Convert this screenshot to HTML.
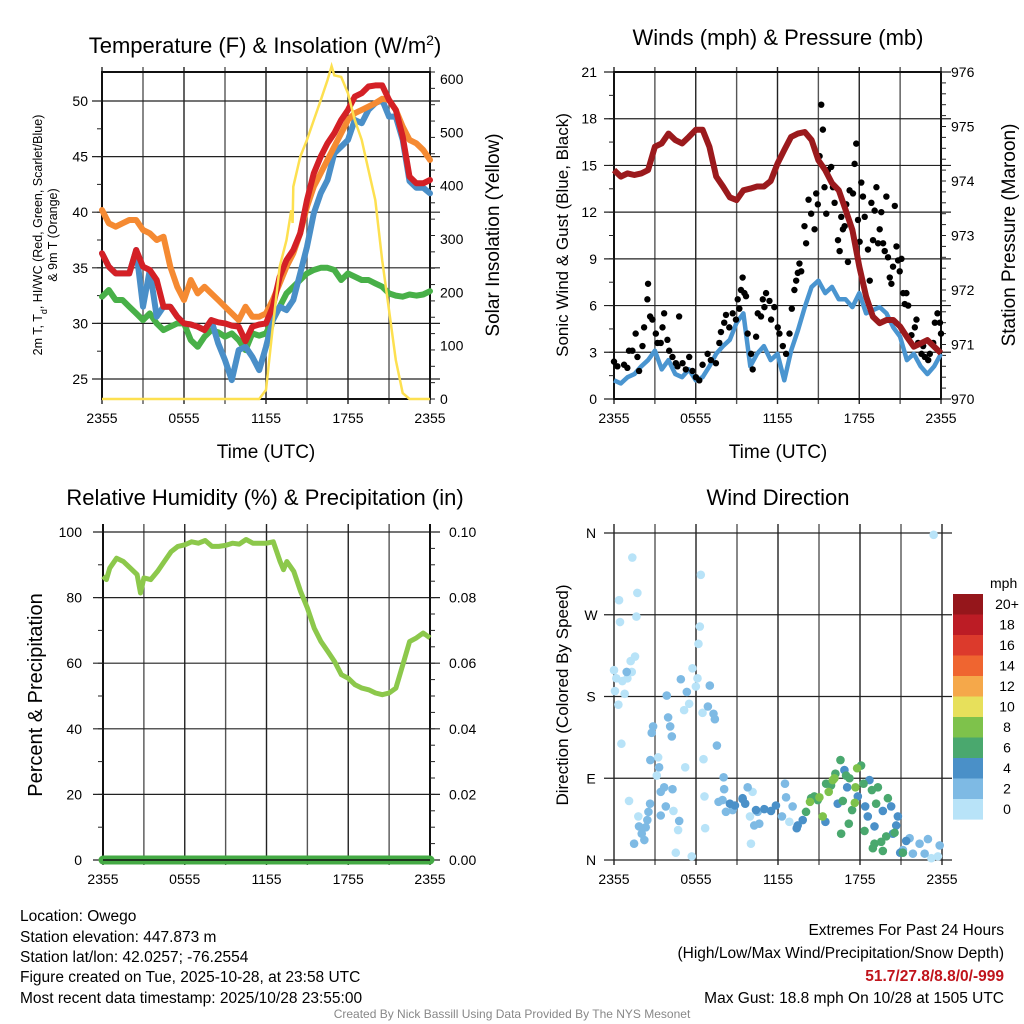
<!DOCTYPE html>
<html><head><meta charset="utf-8"><style>
body{margin:0;background:#fff}
svg{display:block;font-family:"Liberation Sans",sans-serif}
</style></head><body>
<svg id="s" width="1024" height="1024" xmlns="http://www.w3.org/2000/svg">
<rect width="1024" height="1024" fill="#fff"/>
<g id="g1"></g>
<g id="g2"></g>
<g id="g3"></g>
<g id="g4"></g>
<text x="265" y="53" font-size="22" text-anchor="middle">Temperature (F) &amp; Insolation (W/m<tspan baseline-shift="super" font-size="14">2</tspan>)</text>
<text x="778" y="45" font-size="22" text-anchor="middle">Winds (mph) &amp; Pressure (mb)</text>
<text x="265" y="505" font-size="22" text-anchor="middle">Relative Humidity (%) &amp; Precipitation (in)</text>
<text x="778" y="505" font-size="22" text-anchor="middle">Wind Direction</text>
<text x="266" y="458" font-size="19" text-anchor="middle">Time (UTC)</text>
<text x="778" y="458" font-size="19" text-anchor="middle">Time (UTC)</text>
<text transform="translate(42,235) rotate(-90)" font-size="12.5" text-anchor="middle">2m T, T<tspan baseline-shift="sub" font-size="9">d</tspan>, HI/WC (Red, Green, Scarlet/Blue)</text>
<text transform="translate(57,235) rotate(-90)" font-size="12.5" text-anchor="middle">&amp; 9m T (Orange)</text>
<text transform="translate(499,235) rotate(-90)" font-size="19" text-anchor="middle">Solar Insolation (Yellow)</text>
<text transform="translate(568,235) rotate(-90)" font-size="17" text-anchor="middle">Sonic Wind &amp; Gust (Blue, Black)</text>
<text transform="translate(1015,235) rotate(-90)" font-size="19" text-anchor="middle">Station Pressure (Maroon)</text>
<text transform="translate(42,695) rotate(-90)" font-size="20" text-anchor="middle">Percent &amp; Precipitation</text>
<text transform="translate(568,695) rotate(-90)" font-size="17" text-anchor="middle">Direction (Colored By Speed)</text>
<g font-size="15.5">
<text x="20" y="921">Location: Owego</text>
<text x="20" y="942">Station elevation: 447.873 m</text>
<text x="20" y="962">Station lat/lon: 42.0257; -76.2554</text>
<text x="20" y="982">Figure created on Tue, 2025-10-28, at 23:58 UTC</text>
<text x="20" y="1003">Most recent data timestamp: 2025/10/28 23:55:00</text>
</g>
<g font-size="15.5" text-anchor="end">
<text x="1004" y="935">Extremes For Past 24 Hours</text>
<text x="1004" y="958">(High/Low/Max Wind/Precipitation/Snow Depth)</text>
<text x="1004" y="981" fill="#c0141c" font-weight="bold">51.7/27.8/8.8/0/-999</text>
<text x="1004" y="1003">Max Gust: 18.8 mph On 10/28 at 1505 UTC</text>
</g>
<text x="512" y="1018" font-size="12" fill="#888" text-anchor="middle">Created By Nick Bassill Using Data Provided By The NYS Mesonet</text>
</svg>
<script>
// ---- data ----
const tHalf=[0,0.5,1,1.5,2,2.5,3,3.5,4,4.5,5,5.5,6,6.5,7,7.5,8,8.5,9,9.5,10,10.5,11,11.5,12,12.5,13,13.5,14,14.5,15,15.5,16,16.5,17,17.5,18,18.5,19,19.5,20,20.5,21,21.5,22,22.5,23,23.5,24];
const tempRed=[36.3,35.1,34.5,34.5,34.5,36.6,35.1,34.8,33.9,31.5,31.5,30.6,30.0,29.9,29.7,29.4,30.3,30.1,30.0,29.8,29.7,28.4,29.7,29.9,30.0,31.5,34.2,35.7,36.6,38.1,41.1,43.5,45.0,46.2,47.1,48.3,49.2,50.4,50.7,51.3,51.4,51.4,50.1,49.2,46.8,43.2,42.6,42.6,42.9];
const temp9m=[40.2,39.0,38.7,39.0,39.3,39.3,38.4,38.1,37.5,37.8,35.1,33.3,32.1,33.9,32.7,33.3,32.7,32.1,31.5,30.9,30.3,31.5,30.6,30.6,30.9,32.1,33.6,35.1,36.3,38.1,40.5,42.3,43.5,44.7,45.9,47.1,48.3,48.9,49.2,49.5,49.8,50.2,50.1,49.2,47.7,46.5,46.2,45.6,44.7];
const dewpt=[32.4,33.0,32.1,32.1,31.5,30.9,30.3,30.9,30.0,29.4,29.7,30.0,30.0,28.5,27.9,28.8,29.4,29.2,28.8,29.1,28.5,27.6,29.1,28.9,29.1,30.3,31.5,32.7,33.3,33.9,34.5,34.8,35.0,35.0,34.8,33.9,34.5,34.2,33.9,33.9,33.6,33.3,32.7,32.5,32.4,32.6,32.5,32.6,32.9];
const windChill=[36.3,35.1,34.5,34.5,34.5,36.6,31.5,34.8,30.6,31.5,31.5,30.6,30.0,29.9,29.7,29.4,30.3,28.2,26.7,24.9,27.6,27.9,27.0,25.8,27.9,30.3,31.5,31.2,32.1,34.5,36.9,39.9,41.7,42.9,45.3,45.9,46.5,48.3,48.0,49.2,49.8,50.1,48.6,48.6,46.5,42.8,42.2,42.2,41.7];
const solarT=[0,11.5,12,12.5,13,13.5,13.85,13.95,14,14.5,15,15.5,16,16.5,16.8,17,17.5,18,18.5,19,19.5,20,20.5,21,21.5,22,22.5,24];
const solar=[0,0,17,135,248,298,354,330,398,454,486,523,560,598,624,607,604,573,523,486,429,373,260,167,73,11,0,0];
const windT=tHalf;
const sonicWind=[1.2,1.0,1.4,1.6,2.1,2.5,3.1,1.9,2.5,1.6,1.4,1.9,1.2,1.4,2.1,2.9,3.4,3.8,4.9,5.5,2.1,2.9,3.4,2.5,2.9,1.2,3.1,4.4,5.9,7.2,7.6,6.8,7.2,6.4,6.4,5.9,6.8,5.5,5.7,5.9,5.5,4.6,4.0,2.5,2.9,2.1,1.6,2.1,2.9];
const pressure=[974.2,974.08,974.14,974.11,974.14,974.2,974.63,974.69,974.87,974.75,974.69,974.81,974.94,974.94,974.63,974.08,973.9,973.7,973.65,973.83,973.86,973.9,973.9,974.0,974.32,974.57,974.81,974.87,974.9,974.75,974.38,974.2,973.96,973.83,973.47,973.1,972.43,971.88,971.51,971.39,971.45,971.45,971.33,971.14,970.96,971.02,971.08,970.96,970.84];
const gustT=[0,0.25,0.74,0.98,1.10,1.35,1.59,1.72,1.84,2.09,2.21,2.45,2.50,2.65,2.82,3.07,3.19,3.43,3.56,3.68,3.92,4.05,4.29,4.54,4.66,4.78,5.03,5.27,5.52,5.76,6.01,6.26,6.50,6.87,7.11,7.48,7.73,7.85,8.09,8.22,8.46,8.71,8.95,9.08,9.20,9.32,9.44,9.57,9.69,9.81,10.06,10.18,10.43,10.55,10.79,10.92,11.04,11.16,11.41,11.53,11.77,12.02,12.14,12.39,12.63,12.88,13.05,13.24,13.37,13.49,13.61,13.74,13.98,14.10,14.28,14.47,14.72,14.84,14.96,15.09,15.21,15.33,15.45,15.58,15.70,15.94,16.07,16.19,16.44,16.56,16.68,16.80,16.93,17.05,17.17,17.29,17.54,17.66,17.78,17.91,18.03,18.15,18.27,18.40,18.64,18.77,18.89,19.01,19.13,19.26,19.38,19.50,19.62,19.75,19.87,19.99,20.11,20.24,20.36,20.48,20.61,20.73,20.85,20.97,21.10,21.22,21.34,21.46,21.59,21.83,22.08,22.20,22.32,22.57,22.69,22.81,23.06,23.18,23.43,23.55,23.74,23.92,24.0];
const gust=[2.4,2.1,2.2,2.0,3.1,3.1,4.2,2.7,1.8,3.4,4.6,6.4,7.4,5.3,5.1,4.2,3.6,3.6,4.6,5.5,3.8,3.1,2.7,2.3,2.1,5.3,2.3,1.9,2.7,1.8,1.4,1.2,2.2,2.9,2.5,2.3,3.6,4.3,4.9,5.4,4.6,5.5,5.1,6.4,5.8,7.0,7.8,6.8,6.6,4.2,2.9,1.9,4.0,5.5,5.3,6.4,5.9,6.8,6.3,5.1,5.9,4.6,4.2,3.4,2.9,4.2,5.8,7.0,7.6,8.1,8.7,8.2,11.1,10.0,12.8,11.9,10.9,13.2,12.5,15.6,18.9,17.3,13.6,11.9,14.7,14.9,13.6,12.6,10.2,9.5,11.7,10.9,11.1,12.5,8.8,13.4,13.2,15.1,16.4,11.5,10.1,13.9,13.0,11.7,9.6,7.6,12.6,10.2,12.1,13.6,10.0,10.9,12.0,10.0,9.5,13.0,9.1,7.8,7.4,8.5,12.4,9.8,8.9,8.2,9.0,6.8,6.1,6.8,6.0,4.1,4.6,5.1,3.6,2.9,3.4,2.7,2.5,2.9,3.6,4.9,5.5,4.9,4.2];
const rhT=[0,0.25,0.5,1,1.5,2,2.5,2.75,3,3.5,4,4.5,5,5.5,6,6.5,7,7.5,8,8.5,9,9.5,10,10.5,11,11.5,12,12.5,13,13.25,13.5,14,14.5,15,15.5,16,16.5,17,17.5,18,18.5,19,19.5,20,20.5,21,21.5,22,22.5,23,23.5,24];
const rh=[86.5,85.5,89,92,91,89,87,81.4,86,85.5,88,91,94,95.6,96.1,97,96.6,97.4,95.6,95.6,95.9,96.6,96.3,97.7,96.6,96.6,96.6,97,91,88.5,91,88,81.9,76.8,70.7,66.6,63.6,60.5,56.5,55.4,53.4,52.4,51.9,50.9,50.4,50.9,52.4,59.5,66.6,67.7,69.2,67.7];
const precip=[0,0];
const precipT=[0,24];
const dirT=[1.34,1.71,0.37,1.64,0.44,1.54,1.22,0.0,0.17,0.61,0.98,1.30,0.07,0.32,0.78,0.54,1.10,1.78,5.74,6.11,5.99,5.13,5.50,6.48,6.55,5.21,3.13,3.23,6.35,6.28,6.18,6.62,6.67,4.52,5.69,4.35,4.69,10.02,10.14,9.95,12.83,23.39,23.22,23.70,
0.93,4.89,5.33,7.01,6.87,7.28,7.38,7.53,2.86,2.76,3.86,3.96,4.11,4.23,2.66,3.30,3.42,3.67,4.28,3.79,2.64,2.52,2.44,2.03,2.22,1.47,2.32,1.83,4.77,3.42,8.06,7.65,7.94,8.19,8.68,9.78,10.51,10.63,10.26,12.51,12.59,12.29,13.07,21.63,21.87,22.36,22.97,22.73,23.83,21.14,
8.02,8.48,8.85,9.41,9.60,10.39,11.00,11.49,11.85,13.44,13.81,13.37,15.47,16.86,17.06,16.37,17.84,18.38,18.69,18.57,19.06,19.67,20.28,20.77,20.65,20.41,20.94,21.38,
9.41,14.05,14.42,14.66,15.52,15.88,16.20,16.57,16.74,16.98,17.23,17.42,17.18,16.62,18.08,18.26,18.33,18.87,19.31,19.18,20.04,20.53,19.06,19.55,19.92,18.94,19.67,21.14,
14.91,15.03,15.27,15.71,16.01,17.67,17.79,17.62,14.34,16.13];
const dirDeg=[333,294,286,268,262,224,219,209,200,197,200,207,186,171,183,128,65,48,211,200,191,165,172,162,111,102,93,113,314,257,238,70,35,8,4,54,33,18,75,48,42,358,2,4,
207,199,185,192,169,161,155,126,147,140,181,157,147,136,110,102,75,80,78,59,62,53,44,29,22,18,36,37,43,49,78,64,66,53,55,80,53,40,38,84,69,48,59,24,7,18,23,7,16,11,
91,62,60,68,62,55,56,54,60,38,44,35,42,99,80,62,70,59,88,48,37,54,59,48,38,29,8,21,
67,53,68,70,84,82,95,110,65,93,90,55,40,29,104,84,32,77,80,62,68,30,18,20,26,13,10,8,
66,69,48,75,88,80,101,63,64,90];
const dirSpeed=[].concat(Array(44).fill(1),Array(51).fill(3),Array(28).fill(5),Array(28).fill(7),Array(10).fill(9));
const cbLabels=['20+','18','16','14','12','10','8','6','4','2','0'];
const cbColors=['#95161b','#bc1c25','#dc3a2c','#ef6530','#f5a84a','#e7e05b','#7ec24b','#4aa86e','#4a90c8','#7ebae4','#b8e3f8'];
// ---- helpers ----
const NS='http://www.w3.org/2000/svg';
function mk(p,tag,at){const e=document.createElementNS(NS,tag);for(const k in at)e.setAttribute(k,at[k]);p.appendChild(e);return e;}
function lin(d0,d1,r0,r1){return v=>r0+(v-d0)/(d1-d0)*(r1-r0);}
function path(ts,vs,xs,ys){return ts.map((t,i)=>(i?'L':'M')+xs(t).toFixed(1)+','+ys(vs[i]).toFixed(1)).join('');}
const xlab=['2355','0555','1155','1755','2355'];
function frame(g,x0,x1,y0,y1,top){
  for(let i=0;i<=8;i++){const x=x0+(x1-x0)*i/8;const l=mk(g,'line',{x1:x,x2:x,y1:top,y2:y1+5,stroke:i%2?'#555':'#222','stroke-width':1.4});
  }
  for(let i=0;i<5;i++){const t=mk(g,'text',{x:x0+(x1-x0)*i/4,y:y1+24,'font-size':14,'text-anchor':'middle'});t.textContent=xlab[i];
  }
}
function hgrid(g,x0,x1,y,lab,lx,anchor,rlab,rx){
  const l=mk(g,'line',{x1:x0-10,x2:x1+10,y1:y,y2:y,stroke:'#222','stroke-width':1.2});
  
  if(lab!==null){const t=mk(g,'text',{x:lx,y:y+5,'font-size':14,'text-anchor':anchor});t.textContent=lab;
  }
  if(rlab!==null&&rlab!==undefined){const t=mk(g,'text',{x:rx,y:y+5,'font-size':14,'text-anchor':'start'});t.textContent=rlab;
  }
}
function ticks(g,x,y0,y1,n,dir){for(let i=0;i<=n;i++){const y=y0+(y1-y0)*i/n;mk(g,'line',{x1:x,x2:x+dir*5,y1:y,y2:y,stroke:'#222','stroke-width':1});}}
// ---- panel 1 ----
(function(){
const g=document.getElementById('g1');const X0=102,X1=430;
const xs=lin(0,24,X0,X1), ys=lin(25,50,379,101), ysr=lin(0,600,399,79);
frame(g,X0,X1,72,399,67);
for(let v=25;v<=50;v+=5)hgrid(g,X0,X1,ys(v),String(v),88,'end');
for(let v=0;v<=600;v+=100){const t=mk(g,'text',{x:440,y:ysr(v)+5,'font-size':14});t.textContent=v;
}
mk(g,'rect',{x:X0,y:72,width:X1-X0,height:327,fill:'none',stroke:'#111','stroke-width':2});
ticks(g,X1,72,399,20,1);ticks(g,X0,101,379,10,-1);
const sers=[[tHalf,dewpt,'#48b048','dewpoint-line',6],[tHalf,windChill,'#4a8fc8','wind-chill-line',6],[tHalf,temp9m,'#f58a32','temp-9m-line',6],[tHalf,tempRed,'#d42026','temp-2m-line',6]];
sers.forEach(s=>{const p=mk(g,'path',{d:path(s[0],s[1],xs,ys),fill:'none',stroke:s[2],'stroke-width':s[4],'stroke-linejoin':'round','stroke-linecap':'round'});
});
const p=mk(g,'path',{d:path(solarT,solar,xs,ysr),fill:'none',stroke:'#fde050','stroke-width':2.5});

})();
// ---- panel 2 ----
(function(){
const g=document.getElementById('g2');const X0=614,X1=941;
const xs=lin(0,24,X0,X1), ys=lin(0,21,399,72), ysr=lin(970,976,399,72);
frame(g,X0,X1,72,399,67);
for(let v=0;v<=21;v+=3)hgrid(g,X0,X1,ys(v),String(v),597,'end');
for(let v=970;v<=976;v++){const t=mk(g,'text',{x:951,y:ysr(v)+5,'font-size':14});t.textContent=v;
}
mk(g,'rect',{x:X0,y:72,width:X1-X0,height:327,fill:'none',stroke:'#111','stroke-width':2});
ticks(g,X1,72,399,30,1);ticks(g,X0,72,399,14,-1);
let p=mk(g,'path',{d:path(windT,sonicWind,xs,ys),fill:'none',stroke:'#4a95d0','stroke-width':4.5,'stroke-linejoin':'round'});

gustT.forEach((t,i)=>{const c=mk(g,'circle',{cx:xs(t),cy:ys(gust[i]),r:3.2,fill:'#000'});
});
p=mk(g,'path',{d:path(windT,pressure,xs,ysr),fill:'none',stroke:'#9b1a1d','stroke-width':6,'stroke-linejoin':'round'});

})();
// ---- panel 3 ----
(function(){
const g=document.getElementById('g3');const X0=103,X1=430;
const xs=lin(0,24,X0,X1), ys=lin(0,100,860,532), ysr=lin(0,0.1,860,532);
frame(g,X0,X1,532,860,524);
for(let v=0;v<=100;v+=20)hgrid(g,X0,X1,ys(v),String(v),82,'end',(v/1000).toFixed(2),449);
mk(g,'line',{x1:X0,x2:X0,y1:524,y2:860,stroke:'#111','stroke-width':2});
mk(g,'line',{x1:X1,x2:X1,y1:524,y2:860,stroke:'#111','stroke-width':2});
ticks(g,X1,532,860,20,1);ticks(g,X0,532,860,10,-1);
let p=mk(g,'path',{d:path(rhT,rh,xs,ys),fill:'none',stroke:'#8cc84b','stroke-width':5,'stroke-linejoin':'round'});

p=mk(g,'path',{d:path(precipT,precip,xs,ysr),fill:'none',stroke:'#44aa44','stroke-width':9,'stroke-linecap':'round'});

mk(g,'line',{x1:X0,x2:X1,y1:860,y2:860,stroke:'#111','stroke-width':1.5});
})();
// ---- panel 4 ----
(function(){
const g=document.getElementById('g4');const X0=614,X1=942;
const xs=lin(0,24,X0,X1), ys=lin(0,360,860,533);
frame(g,X0,X1,533,860,524);
['N','E','S','W','N'].forEach((l,i)=>hgrid(g,X0,X1,ys(i*90),l,591,'middle'));
dirT.forEach((t,i)=>{const s=dirSpeed[i];const idx=10-Math.min(10,Math.floor(s/2));
const c=mk(g,'circle',{cx:xs(t),cy:ys(dirDeg[i]),r:4.3,fill:cbColors[idx]});
});
const t=mk(g,'text',{x:990,y:588,'font-size':14});t.textContent='mph';

cbLabels.forEach((l,i)=>{const y=594+i*20.5;
const r=mk(g,'rect',{x:953,y:y,width:30,height:20.6,fill:cbColors[i]});

const tx=mk(g,'text',{x:1007,y:y+15,'font-size':14,'text-anchor':'middle'});tx.textContent=l;
});
})();
</script>
</body></html>
